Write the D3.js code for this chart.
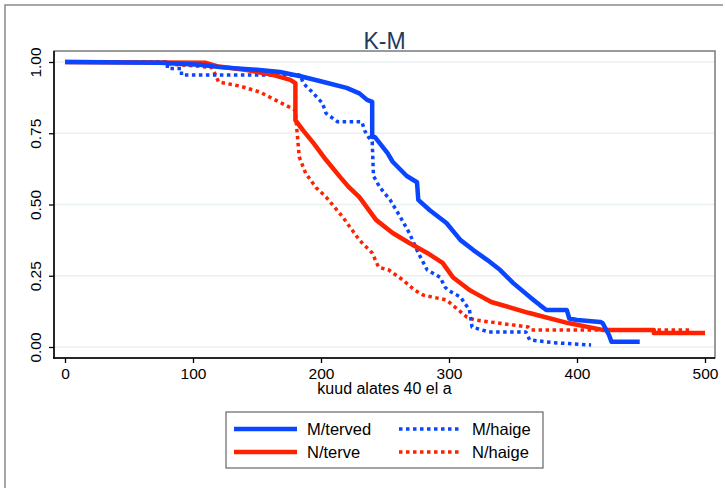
<!DOCTYPE html>
<html>
<head>
<meta charset="utf-8">
<script src="https://cdn.jsdelivr.net/npm/d3@7"></script>
<style>
  body { margin: 0; background: #fff; }
  svg { display: block; font-family: "Liberation Sans", Arial, sans-serif; }
</style>
</head>
<body>
<script>
// survival curves: [months since age 40, survival]
// (a repeated month = a vertical drop)
var mTerved = [[0,1],[74,0.997],[105,0.99],[121,0.982],[152,0.972],[168,0.965],[184,0.95],
  [202,0.93],[220,0.909],[230,0.89],[236,0.867],[240,0.86],[240,0.737],[242,0.737],[252,0.68],
  [256,0.65],[267,0.6],[275,0.578],[276,0.516],[285,0.48],[298,0.435],[309,0.375],[319,0.34],
  [330,0.305],[340,0.27],[350,0.225],[366,0.165],[371,0.147],[376,0.13],[392,0.13],[394,0.1],
  [400,0.095],[418,0.088],[420,0.084],[425,0.042],[427,0.018],[449,0.018]];
var nTerve = [[0,1],[110,0.997],[120,0.984],[142,0.972],[163,0.954],[176,0.937],[180,0.926],
  [180,0.796],[186,0.76],[194,0.716],[204,0.656],[215,0.596],[222,0.56],[230,0.526],[243,0.446],
  [256,0.4],[269,0.365],[283,0.33],[295,0.295],[303,0.245],[316,0.2],[320,0.19],[333,0.158],
  [362,0.12],[393,0.084],[420,0.06],[460,0.06],[460,0.049],[500,0.049]];
var mHaige = [[0,1],[80,1],[80,0.977],[91,0.977],[91,0.954],[184,0.954],[186,0.926],[193,0.895],
  [201,0.856],[204,0.82],[213,0.79],[232,0.79],[234,0.76],[237,0.737],[240,0.72],[241,0.6],
  [246,0.56],[254,0.516],[262,0.456],[269,0.4],[276,0.33],[283,0.27],[293,0.245],[297,0.21],
  [299,0.2],[309,0.175],[316,0.13],[318,0.07],[331,0.053],[360,0.053],[363,0.025],[382,0.015],
  [411,0.007]];
var nHaige = [[0,1],[82,1],[82,0.993],[105,0.985],[115,0.98],[120,0.93],[137,0.915],[152,0.895],
  [176,0.84],[180,0.83],[181,0.77],[183,0.667],[188,0.61],[196,0.56],[204,0.526],[217,0.456],
  [230,0.375],[240,0.33],[245,0.28],[253,0.27],[264,0.235],[273,0.2],[280,0.182],[298,0.165],
  [314,0.105],[320,0.095],[362,0.07],[364,0.06],[488,0.06]];

var xTicks = [0, 100, 200, 300, 400, 500];
var yTicks = [0, 0.25, 0.5, 0.75, 1];

var blue = "#0a46ff", red = "#ff2200";
var series = [
  { name: "M/terved", data: mTerved, color: blue, dash: null },
  { name: "N/terve", data: nTerve, color: red, dash: null },
  { name: "M/haige", data: mHaige, color: blue, dash: "3.5,3.5" },
  { name: "N/haige", data: nHaige, color: red, dash: "3.5,3.5" }
];

var W = 725, H = 488,
    plot = { left: 54, right: 715, top: 51, bottom: 358 };

var x = d3.scaleLinear().domain([0, 500]).range([65, 705]);
var y = d3.scaleLinear().domain([0, 1]).range([347, 62]);

var svg = d3.select("body").append("svg").attr("width", W).attr("height", H);

// outer frame
svg.append("path").attr("d", "M5,488V5H723")
  .attr("fill", "none").attr("stroke", "#8a8a8a").attr("stroke-width", 1.5);

// grid
svg.append("g").selectAll("line").data(yTicks).enter().append("line")
  .attr("x1", plot.left).attr("x2", plot.right)
  .attr("y1", function(d) { return y(d); }).attr("y2", function(d) { return y(d); })
  .attr("stroke", "#e9f0f2").attr("stroke-width", 1.5);

// plot region outline
svg.append("rect")
  .attr("x", plot.left).attr("y", plot.top)
  .attr("width", plot.right - plot.left).attr("height", plot.bottom - plot.top)
  .attr("fill", "none").attr("stroke", "#7a7a7a").attr("stroke-width", 1.5);

// curves
var line = d3.line()
  .x(function(d) { return x(d[0]); })
  .y(function(d) { return y(d[1]); });

svg.append("g").selectAll("path").data(series.slice().reverse()).enter().append("path")
  .attr("d", function(s) { return line(s.data); })
  .attr("fill", "none")
  .attr("stroke", function(s) { return s.color; })
  .attr("stroke-width", function(s) { return s.dash ? 3.5 : 4.5; })
  .attr("stroke-dasharray", function(s) { return s.dash; })
  .attr("stroke-linejoin", "round");

// axes
var xAxis = d3.axisBottom(x).tickValues(xTicks).tickSize(5).tickSizeOuter(0);
var gx = svg.append("g").attr("transform", "translate(0," + plot.bottom + ")").call(xAxis);
gx.select(".domain").remove();
gx.selectAll("text").attr("font-size", 15.5).attr("fill", "#000").attr("dy", "0.85em");
gx.selectAll("line").attr("stroke", "#000").attr("stroke-width", 1.3);

var yAxis = d3.axisLeft(y).tickValues(yTicks).tickSize(5).tickSizeOuter(0)
  .tickFormat(d3.format(".2f"));
var gy = svg.append("g").attr("transform", "translate(" + plot.left + ",0)").call(yAxis);
gy.select(".domain").remove();
gy.selectAll("line").attr("stroke", "#000").attr("stroke-width", 1.3);
gy.selectAll("text")
  .attr("font-size", 15.5).attr("fill", "#000")
  .attr("x", null).attr("dy", null)
  .attr("text-anchor", "middle")
  .attr("transform", "translate(-13,0) rotate(-90)");

svg.append("line").attr("x1", plot.left).attr("x2", plot.left)
  .attr("y1", plot.top).attr("y2", plot.bottom + 0.75)
  .attr("stroke", "#000").attr("stroke-width", 1.5);
svg.append("line").attr("x1", plot.left - 0.75).attr("x2", plot.right)
  .attr("y1", plot.bottom).attr("y2", plot.bottom)
  .attr("stroke", "#000").attr("stroke-width", 1.5);

// title + axis title
svg.append("text").attr("x", (plot.left + plot.right) / 2).attr("y", 49)
  .attr("text-anchor", "middle").attr("font-size", 23).attr("fill", "#1e3a5e")
  .text("K-M");
svg.append("text").attr("x", (plot.left + plot.right) / 2).attr("y", 394)
  .attr("text-anchor", "middle").attr("font-size", 16).attr("fill", "#000")
  .text("kuud alates 40 el a");

// legend
var lg = svg.append("g");
lg.append("rect").attr("x", 226).attr("y", 412).attr("width", 317).attr("height", 56)
  .attr("fill", "#fff").attr("stroke", "#666").attr("stroke-width", 1.2);
var cols = [234, 399], rows = [429, 452];
var items = lg.selectAll("g.item").data(series).enter().append("g").attr("class", "item")
  .attr("transform", function(s, i) {
    return "translate(" + cols[i < 2 ? 0 : 1] + "," + rows[i % 2] + ")";
  });
items.append("line").attr("x1", 0).attr("x2", 63)
  .attr("stroke", function(s) { return s.color; })
  .attr("stroke-width", function(s) { return s.dash ? 3.5 : 4.5; })
  .attr("stroke-dasharray", function(s) { return s.dash; });
items.append("text").attr("x", 73).attr("y", 6)
  .attr("font-size", 16.5).attr("fill", "#000")
  .text(function(s) { return s.name; });
</script>
</body>
</html>
